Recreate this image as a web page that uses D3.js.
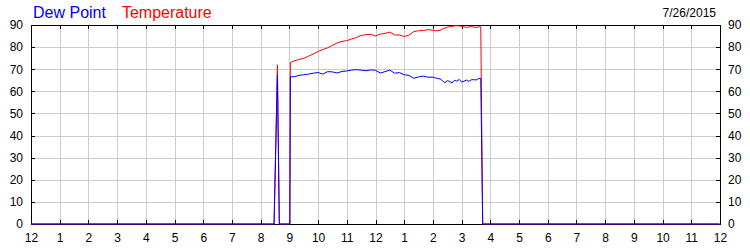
<html>
<script src="https://d3js.org/d3.v7.min.js"></script>
<style>
    body { margin: 0; background: white; }
    .grid line {
        stroke: #cccccc;
        shape-rendering: crispEdges;
    }
    .grid path { stroke-width: 0; }
    .axis path,
    .axis line {
        fill: none;
        stroke: black;
        shape-rendering: crispEdges;
    }
    .axis text {
        font-family: "Liberation Sans", Arial, sans-serif;
        font-size: 12px;
        fill: black;
    }
</style>
<body>
<svg id="chart" width=750 height=250></svg>
<script>
// readings for the day (time of day, degrees F)
var times = ["0:00", "8:28", "8:35", "8:39", "9:01", "9:02", "9:10", "9:20", "9:30", "9:40", "9:50",
    "10:00", "10:10", "10:20", "10:30", "10:40", "10:50", "11:00", "11:10", "11:20", "11:30", "11:40", "11:50",
    "12:00", "12:10", "12:20", "12:30", "12:40", "12:50", "13:00", "13:10", "13:20", "13:30", "13:40", "13:50",
    "14:00", "14:05", "14:10", "14:15", "14:20", "14:25", "14:30", "14:35", "14:40", "14:45", "14:50", "14:55",
    "15:00", "15:05", "15:10", "15:15", "15:20", "15:25", "15:30", "15:35", "15:40", "15:44", "23:59"];

var temperature = [0, 0, 72, 0, 0, 73.0, 73.8, 74.4, 74.9, 75.9, 76.9,
    78.0, 78.9, 79.7, 80.8, 81.9, 82.6, 82.9, 83.7, 84.3, 85.3, 85.6, 85.8,
    85.0, 85.9, 86.2, 86.8, 85.5, 85.5, 84.8, 85.4, 87.0, 87.4, 87.5, 87.9,
    87.6, 87.4, 87.4, 87.5, 88.2, 88.6, 89.0, 89.2, 89.4, 89.6, 89.7, 89.6,
    89.4, 89.1, 88.9, 89.1, 89.3, 89.1, 88.9, 89.1, 89.2, 0, 0];

var dewPoint = [0, 0, 67.4, 0, 0, 66.6, 66.6, 67.2, 67.5, 67.8, 68.2,
    68.5, 67.8, 68.9, 68.8, 68.3, 69.0, 69.2, 69.6, 69.8, 69.6, 69.3, 69.7,
    69.5, 68.3, 68.9, 69.6, 68.2, 68.5, 67.5, 67.2, 65.9, 66.5, 66.9, 66.4,
    66.4, 66.1, 65.8, 65.6, 64.8, 63.9, 64.8, 64.5, 63.8, 65.0, 64.6, 65.4,
    64.2, 64.6, 65.1, 64.5, 65.2, 65.3, 65.1, 65.7, 65.9, 0, 0];

var yTicks = [0, 10, 20, 30, 40, 50, 60, 70, 80, 90];
var dateLabel = "7/26/2015";

var margin = {top: 25, right: 30, bottom: 26, left: 31},
    width = 750 - margin.left - margin.right,
    height = 250 - margin.top - margin.bottom;

var parseTime = d3.timeParse("%H:%M");
var dayStart = parseTime("0:00");
var dayEnd = d3.timeDay.offset(dayStart, 1);

var svg = d3.select("#chart")
    .append("g")
    .attr("transform", "translate(" + margin.left + "," + margin.top + ")");

var x = d3.scaleTime()
    .domain([dayStart, dayEnd])
    .range([0, width]);

var y = d3.scaleLinear()
    .domain([0, 90])
    .range([height, 0]);

var hours = d3.timeHour.range(dayStart, d3.timeMinute.offset(dayEnd, 1));

// grid
svg.append("g")
    .attr("class", "grid")
    .attr("transform", "translate(0," + height + ")")
    .call(d3.axisBottom(x).tickValues(hours).tickSize(-height).tickFormat(""));

svg.append("g")
    .attr("class", "grid")
    .call(d3.axisLeft(y).tickValues(yTicks).tickSize(-width).tickFormat(""));

// axes
svg.append("g")
    .attr("class", "axis")
    .call(d3.axisTop(x).tickValues(hours).tickSizeInner(-4).tickSizeOuter(0).tickFormat(""));

svg.append("g")
    .attr("class", "axis")
    .attr("transform", "translate(0," + height + ")")
    .call(d3.axisBottom(x).tickValues(hours).tickSizeInner(-4).tickSizeOuter(0)
        .tickPadding(9).tickFormat(d3.timeFormat("%-I")));

svg.append("g")
    .attr("class", "axis")
    .call(d3.axisLeft(y).tickValues(yTicks).tickSizeInner(-4).tickSizeOuter(0).tickPadding(8));

svg.append("g")
    .attr("class", "axis")
    .attr("transform", "translate(" + width + ",0)")
    .call(d3.axisRight(y).tickValues(yTicks).tickSizeInner(-4).tickSizeOuter(0).tickPadding(8));

// lines
function drawSeries(values, color) {
    var line = d3.line()
        .x(function(d, i) { return x(parseTime(times[i])); })
        .y(function(d) { return y(d); });

    svg.append("path")
        .datum(values)
        .attr("fill", "none")
        .attr("stroke", color)
        .attr("stroke-width", 1)
        .attr("d", line);
}

drawSeries(temperature, "#ff0000");
drawSeries(dewPoint, "#0000ff");

// legend and date
var title = d3.select("#chart").append("text")
    .attr("x", 33)
    .attr("y", 18)
    .style("font-family", "Liberation Sans, Arial, sans-serif")
    .style("font-size", "16px");

title.append("tspan").attr("fill", "#0000ff").text("Dew Point");
title.append("tspan").attr("fill", "#ff0000").attr("dx", 16).text("Temperature");

d3.select("#chart").append("text")
    .attr("x", 716)
    .attr("y", 17)
    .attr("text-anchor", "end")
    .style("font-family", "Liberation Sans, Arial, sans-serif")
    .style("font-size", "12px")
    .text(dateLabel);
</script>
</body>
</html>
